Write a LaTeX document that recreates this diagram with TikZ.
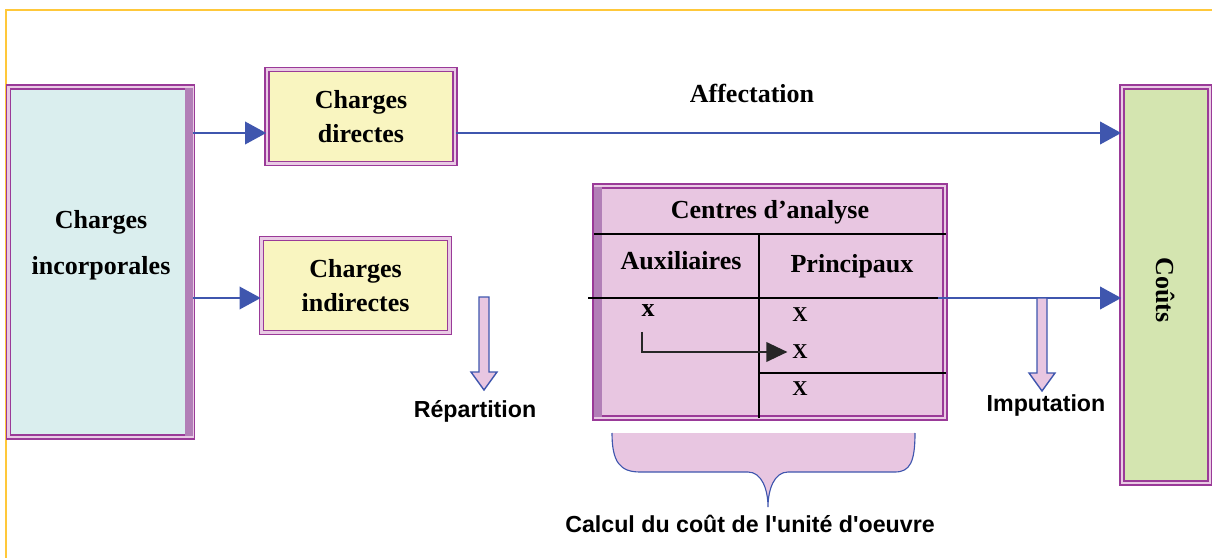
\documentclass[tikz,border=0pt]{standalone}
\usepackage{fontspec}
\setmainfont{Liberation Serif}
\setsansfont{Liberation Sans}
\usetikzlibrary{arrows.meta, calc}

\definecolor{bordpurple}{HTML}{9A3A98}
\definecolor{shadepurple}{HTML}{B27FB7}
\definecolor{bandpink}{HTML}{E9CBE4}
\definecolor{cyanfill}{HTML}{DAEEEE}
\definecolor{yellowfill}{HTML}{F9F5C0}
\definecolor{greenfill}{HTML}{D4E5B0}
\definecolor{pinkfill}{HTML}{E8C6E1}
\definecolor{flowblue}{HTML}{3F56AE}
\definecolor{framegold}{HTML}{FFC83A}

\begin{document}
\begin{tikzpicture}[x=0.025cm, y=-0.025cm,
box/.style={draw=bordpurple, line width=1.1pt, double=bandpink, double distance=2pt,
  inner sep=0pt, align=center, font=\bfseries\fontsize{18.5}{24}\selectfont},
serif/.style={font=\bfseries\fontsize{18.5}{24}\selectfont},
cell/.style={font=\bfseries\fontsize{15}{18}\selectfont},
lbl/.style={font=\sffamily\bfseries\fontsize{16.5}{20}\selectfont},
flow/.style={flowblue, line width=1.4pt, -{Triangle[length=15pt, width=16pt]}},
tabline/.style={black, line width=1.4pt},
hollow/.style={draw=flowblue, fill=pinkfill, line width=1pt, line join=miter}]

\useasboundingbox (0,0) rectangle (1212,558);
\draw[framegold, line width=0.8pt] (6,558) -- (6,10) -- (1212,10);

% boxes
\node[box, fill=cyanfill, minimum width=4.6cm, minimum height=8.75cm] (incorp) at (100.5,262) {};
\fill[shadepurple] ($(incorp.north east)+(-8,2)$) rectangle ($(incorp.south east)+(0,-2)$);
\node[serif, align=center] (incorplbl) at (101,245) {Charges\\[9pt]incorporales};
\node[box, fill=yellowfill, minimum width=4.7cm, minimum height=2.35cm] (directes) at (361,116.5) {Charges\\directes};
\node[box, fill=yellowfill, minimum width=4.7cm, minimum height=2.35cm] (indirectes) at (355.5,285.5) {Charges\\indirectes};
\node[box, fill=greenfill, minimum width=2.2cm, minimum height=9.9cm] (couts) at (1166,285) {};
\node[serif, rotate=-90] (coutslbl) at (1166,290) {Coûts};

% centres d'analyse
\node[box, fill=pinkfill, minimum width=8.75cm, minimum height=5.8cm] (centres) at (770,302) {};
\fill[shadepurple] ($(centres.north west)+(0,2)$) rectangle ($(centres.south west)+(8,-2)$);
\node[serif] (ctitle) at (770,212) {Centres d’analyse};
\node[serif] (aux) at (681,261) {Auxiliaires};
\node[serif] (princ) at (852,266) {Principaux};
\node[serif] (xa) at (648,311) {x};
\node[cell] (x1) at (800,315) {X};
\node[cell] (x2) at (800,352) {X};
\node[cell] (x3) at (800,389) {X};
\coordinate (tabexit) at (938,298);
\draw[tabline] (centres.west |- 0,234) -- (centres.east |- 0,234);
\draw[tabline] (759,234) -- (759,418);
\draw[tabline] (759,373) -- (centres.east |- 0,373);
\draw[tabline] (588,298) -- (tabexit);
\draw[black!85, line width=1.2pt, -{Triangle[length=15pt, width=14pt]}] ([xshift=-0.15cm, yshift=-0.25cm]xa.south) |- (x2.west);

% flows
\draw[flow] (incorp.east |- 0,133) -- (directes.west |- 0,133);
\draw[flow] (incorp.east |- 0,298) -- (indirectes.west |- 0,298);
\draw[flow] (directes.east |- 0,133) -- (couts.west |- 0,133);
\draw[flow] (tabexit) -- (couts.west |- tabexit);
\node[serif] (affect) at (752,93) {Affectation};

\foreach \ax/\ay in {484/297, 1042/298}
  \draw[hollow] (\ax-5,\ay) -- (\ax-5,\ay+75) -- (\ax-13,\ay+75) -- (\ax,\ay+93)
    -- (\ax+13,\ay+75) -- (\ax+5,\ay+75) -- (\ax+5,\ay) -- cycle;
\node[lbl] (repart) at (475,411) {Répartition};
\node[lbl] (imput) at (1046,405) {Imputation};

% accolade
\fill[pinkfill] (612,433) .. controls (612,462) and (620,472) .. (640,472) -- (748,472)
  .. controls (762,472) and (768,490) .. (768,507) .. controls (768,490) and (774,472) .. (788,472)
  -- (895,472) .. controls (910,472) and (915,462) .. (915,433) -- cycle;
\draw[flowblue, line width=0.8pt] (612,433) .. controls (612,462) and (620,472) .. (640,472) -- (748,472)
  .. controls (762,472) and (768,490) .. (768,507) .. controls (768,490) and (774,472) .. (788,472)
  -- (895,472) .. controls (910,472) and (915,462) .. (915,433);
\node[lbl] (calcul) at (750,524) {Calcul du coût de l\textquotesingle unité d\textquotesingle oeuvre};
\end{tikzpicture}
\end{document}
